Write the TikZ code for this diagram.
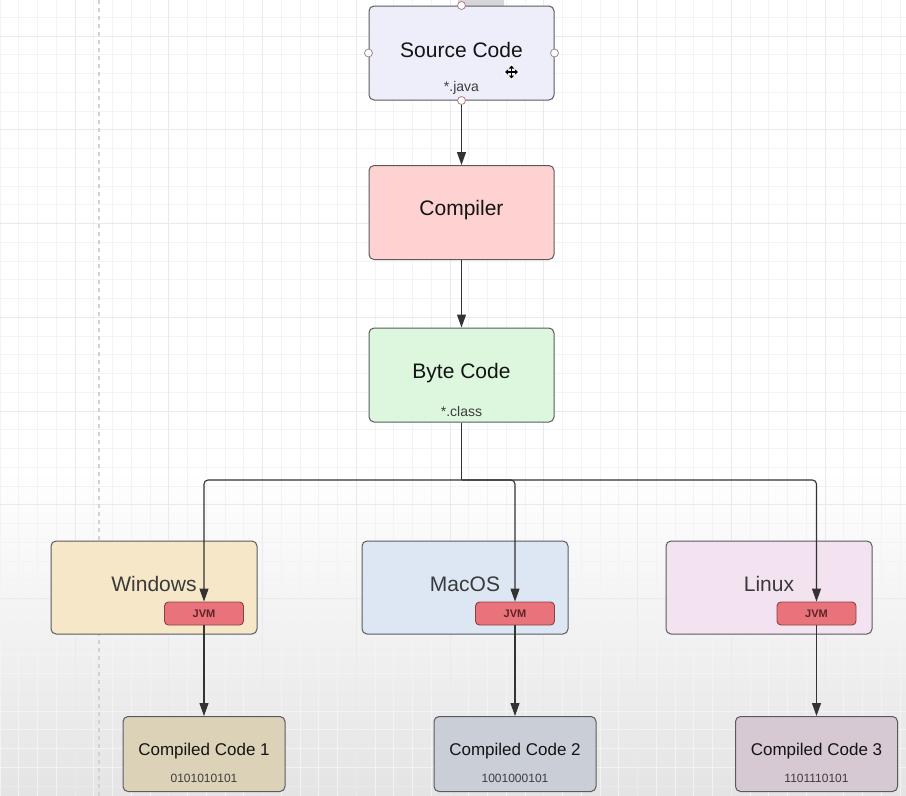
\documentclass[tikz,border=0pt]{standalone}
\usepackage{fontspec}
\setmainfont{Liberation Sans}
\usetikzlibrary{arrows.meta}
\definecolor{boxline}{HTML}{5A5A5E}
\definecolor{srcfill}{HTML}{EEEEFB}
\definecolor{compfill}{HTML}{FFD2D2}
\definecolor{bytefill}{HTML}{DCF7DD}
\definecolor{winfill}{HTML}{F6E7C8}
\definecolor{macfill}{HTML}{DDE7F3}
\definecolor{linfill}{HTML}{F3E2EF}
\definecolor{cc1fill}{HTML}{DCD2B7}
\definecolor{cc2fill}{HTML}{C9CED7}
\definecolor{cc3fill}{HTML}{D7C9D4}
\definecolor{jvmfill}{HTML}{E9737A}
\definecolor{jvmline}{HTML}{8C3F43}
\definecolor{jvmtext}{HTML}{5E2427}
\definecolor{arrowc}{HTML}{333333}
\definecolor{ostext}{HTML}{3A3A3A}
\definecolor{subtext}{HTML}{3C3C3C}
\definecolor{bgbottom}{HTML}{E4E4E5}
\definecolor{gridminor}{HTML}{F3F3F5}
\definecolor{gridmajor}{HTML}{EAEAED}
\definecolor{dashc}{HTML}{D2D2D5}
\definecolor{cptline}{HTML}{9A8A8E}
\definecolor{cptpink}{HTML}{B07C86}
\definecolor{tabfill}{HTML}{D6D6DA}
\tikzset{
  mainbox/.style={draw=boxline, rounded corners=5pt, line width=1pt, inner sep=0pt,
    minimum width=185pt, minimum height=94pt},
  osbox/.style={mainbox, minimum width=206pt, minimum height=93pt},
  ccbox/.style={mainbox, minimum width=162pt, minimum height=75pt},
  jvmbox/.style={draw=jvmline, fill=jvmfill, rounded corners=4pt, line width=0.9pt,
    minimum width=79pt, minimum height=23pt, inner sep=0pt,
    font=\fontsize{11}{12}\selectfont\bfseries, text=jvmtext},
  bigtext/.style={font=\fontsize{21}{24}\selectfont, text=black!92, inner sep=0pt},
  ostitle/.style={font=\fontsize{21}{24}\selectfont, text=ostext, inner sep=0pt},
  cctitle/.style={font=\fontsize{17}{20}\selectfont, text=black!92, inner sep=0pt},
  subtitle/.style={font=\fontsize{14}{16}\selectfont, text=subtext, inner sep=0pt},
  bitstext/.style={font=\fontsize{12}{14}\selectfont, text=subtext, inner sep=0pt},
  arr/.style={draw=arrowc, line width=1.1pt, -{Triangle[length=13pt,width=9pt]}},
  conn/.style={draw=arrowc, line width=1.1pt},
  cpoint/.style={circle, draw=cptline, fill=white, line width=0.8pt, minimum size=8pt, inner sep=0pt},
}
\begin{document}
\begin{tikzpicture}[x=1pt,y=-1pt]
\useasboundingbox (0,0) rectangle (906,796);
\fill[white] (0,0) rectangle (906,796);
\shade[top color=white, bottom color=bgbottom] (0,470) rectangle (906,796);
% grid
\foreach \i in {0,...,48} { \draw[gridminor, line width=0.6pt] (\i*18.75,0) -- (\i*18.75,796); }
\foreach \i in {-2,...,43} { \draw[gridminor, line width=0.6pt] (0,-1.5+\i*18.75) -- (906,-1.5+\i*18.75); }
\foreach \i in {0,...,9} { \draw[gridmajor, line width=0.8pt] (75+\i*93.75,0) -- (75+\i*93.75,796); }
\foreach \i in {0,...,8} { \draw[gridmajor, line width=0.8pt] (0,36+\i*93.75) -- (906,36+\i*93.75); }
\draw[dashc, line width=1.6pt, dash pattern=on 4pt off 4pt] (99,0) -- (99,796);

% top tab
\fill[tabfill, rounded corners=5pt] (458,-8) rectangle (504,19);

% main column
\node[mainbox, fill=srcfill] (src) at (461.5,53) {};
\node[bigtext] (srct) at (461.5,50) {Source Code};
\node[subtitle] (srcs) at (461.5,88) {*.java};

\node[mainbox, fill=compfill] (comp) at (461.5,212.5) {};
\node[bigtext] (compt) at (461.5,210) {Compiler};

\node[mainbox, fill=bytefill] (byte) at (461.5,375) {};
\node[bigtext] (bytet) at (461.5,373) {Byte Code};
\node[subtitle] (bytes) at (461.5,411) {*.class};

% OS boxes
\node[osbox, fill=winfill] (win) at (154,587.5) {};
\node[ostitle] (wint) at (154,584) {Windows};
\node[jvmbox] (jvm1) at (204,613.5) {JVM};

\node[osbox, fill=macfill] (mac) at (465,587.5) {};
\node[ostitle] (mact) at (465,584) {MacOS};
\node[jvmbox] (jvm2) at (515,613.5) {JVM};

\node[osbox, fill=linfill] (lin) at (769,587.5) {};
\node[ostitle] (lint) at (769,584) {Linux};
\node[jvmbox] (jvm3) at (816.5,613.5) {JVM};

% compiled code boxes
\node[ccbox, fill=cc1fill] (cc1) at (204,754) {};
\node[cctitle] (cc1t) at (204,751) {Compiled Code 1};
\node[bitstext] (cc1b) at (204,778) {0101010101};

\node[ccbox, fill=cc2fill] (cc2) at (515,754) {};
\node[cctitle] (cc2t) at (515,751) {Compiled Code 2};
\node[bitstext] (cc2b) at (515,778) {1001000101};

\node[ccbox, fill=cc3fill] (cc3) at (816.5,754) {};
\node[cctitle] (cc3t) at (816.5,751) {Compiled Code 3};
\node[bitstext] (cc3b) at (816.5,778) {1101110101};

% connectors
\draw[arr] (src.south) -- (comp.north);
\draw[arr] (comp.south) -- (byte.north);
\coordinate (split) at (461.5,480);
\draw[conn] (byte.south) -- (split);
\draw[arr, rounded corners=4pt] (split) -| (jvm1.north);
\draw[arr, rounded corners=4pt] (split) -| (jvm2.north);
\draw[arr, rounded corners=4pt] (split) -| (jvm3.north);
\draw[arr] (jvm1.south) -- (cc1.north);
\draw[arr] (jvm2.south) -- (cc2.north);
\draw[arr] (jvm3.south) -- (cc3.north);

% connection points on selected shape
\node[cpoint, draw=cptpink] (cpt) at (src.north) {};
\node[cpoint, draw=cptpink] (cpb) at (src.south) {};
\node[cpoint] (cpl) at (src.west) {};
\node[cpoint] (cpr) at (src.east) {};

% move cursor
\begin{scope}[shift={(511.5,72)}]
  \draw[white, line width=3pt, line cap=round] (-7,0) -- (7,0) (0,-7) -- (0,7);
  \draw[black, line width=1.3pt, {Triangle[length=3pt,width=5pt]}-{Triangle[length=3pt,width=5pt]}] (-6.5,0) -- (6.5,0);
  \draw[black, line width=1.3pt, {Triangle[length=3pt,width=5pt]}-{Triangle[length=3pt,width=5pt]}] (0,-6.5) -- (0,6.5);
\end{scope}
\end{tikzpicture}
\end{document}
